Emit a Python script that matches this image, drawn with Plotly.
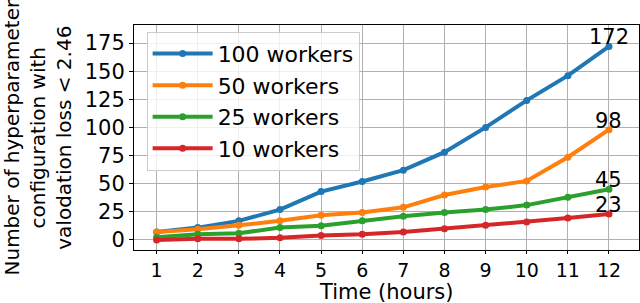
import plotly.graph_objects as go

hours = [1, 2, 3, 4, 5, 6, 7, 8, 9, 10, 11, 12]
workers_100 = [7, 11, 17, 27, 43, 52, 62, 78, 100, 124, 146, 172]
workers_50 = [7, 9.5, 13, 17, 22, 24.5, 29, 40, 47, 52.5, 73.5, 98]
workers_25 = [2.5, 5, 6, 11, 12.7, 17, 21, 24.5, 27, 31, 38, 45]
workers_10 = [0, 1, 1, 2, 4, 5, 7, 10, 13, 16, 19.5, 23]
series_names = ["100 workers", "50 workers", "25 workers", "10 workers"]
series_values = [workers_100, workers_50, workers_25, workers_10]
series_colors = ["#1f77b4", "#ff7f0e", "#2ca02c", "#d62728"]
y_ticks = [0, 25, 50, 75, 100, 125, 150, 175]

FONT = "DejaVu Sans"

fig = go.Figure()
for name, vals, col in zip(series_names, series_values, series_colors):
    fig.add_trace(go.Scatter(
        x=hours, y=vals, name=name, mode="lines+markers",
        line=dict(color=col, width=4),
        marker=dict(color=col, size=7),
    ))
    fig.add_annotation(
        x=hours[-1], y=vals[-1], text=str(round(vals[-1])),
        showarrow=False, xanchor="center", yanchor="bottom", yshift=-5,
        font=dict(family=FONT, size=21, color="black"),
    )

fig.add_annotation(
    xref="paper", yref="paper", x=0, y=0.5, xshift=-97,
    text="Number of hyperparameter<br>configuration with<br>valodation loss < 2.46",
    textangle=-90, showarrow=False, xanchor="center", yanchor="middle",
    font=dict(family=FONT, size=20, color="black"),
)

fig.add_annotation(
    xref="paper", yref="paper", x=0.5, y=0, yshift=-42,
    text="Time (hours)", showarrow=False, xanchor="center", yanchor="middle",
    font=dict(family=FONT, size=21, color="black"),
)

fig.update_layout(
    width=640, height=303,
    margin=dict(l=134, r=1, t=25, b=53, autoexpand=False),
    plot_bgcolor="white", paper_bgcolor="white",
    font=dict(family=FONT, size=20, color="black"),
    showlegend=True,
    legend=dict(
        x=0.025, y=0.97, xanchor="left", yanchor="top",
        bgcolor="rgba(255,255,255,0.8)", bordercolor="#cccccc", borderwidth=1,
        font=dict(family=FONT, size=22, color="black"),
        itemwidth=60,
    ),
)
fig.update_xaxes(
    range=[0.45, 12.73], tickmode="array", tickvals=hours,
    showgrid=True, gridcolor="#b0b0b0", gridwidth=1,
    showline=True, linecolor="black", linewidth=1, mirror=True,
    ticks="outside", ticklen=3, tickcolor="black",
    tickfont=dict(family=FONT, size=19),
    zeroline=False, automargin=False,
)
fig.update_yaxes(
    range=[-8.9, 191], tickmode="array", tickvals=y_ticks,
    showgrid=True, gridcolor="#b0b0b0", gridwidth=1,
    showline=True, linecolor="black", linewidth=1, mirror=True,
    ticks="outside", ticklen=4, tickcolor="black",
    tickfont=dict(family=FONT, size=21),
    zeroline=False, automargin=False,
)

fig.write_html(
    "out.html",
    config={"displayModeBar": False},
    post_script="document.body.style.margin='0';document.body.style.overflow='hidden';",
)
